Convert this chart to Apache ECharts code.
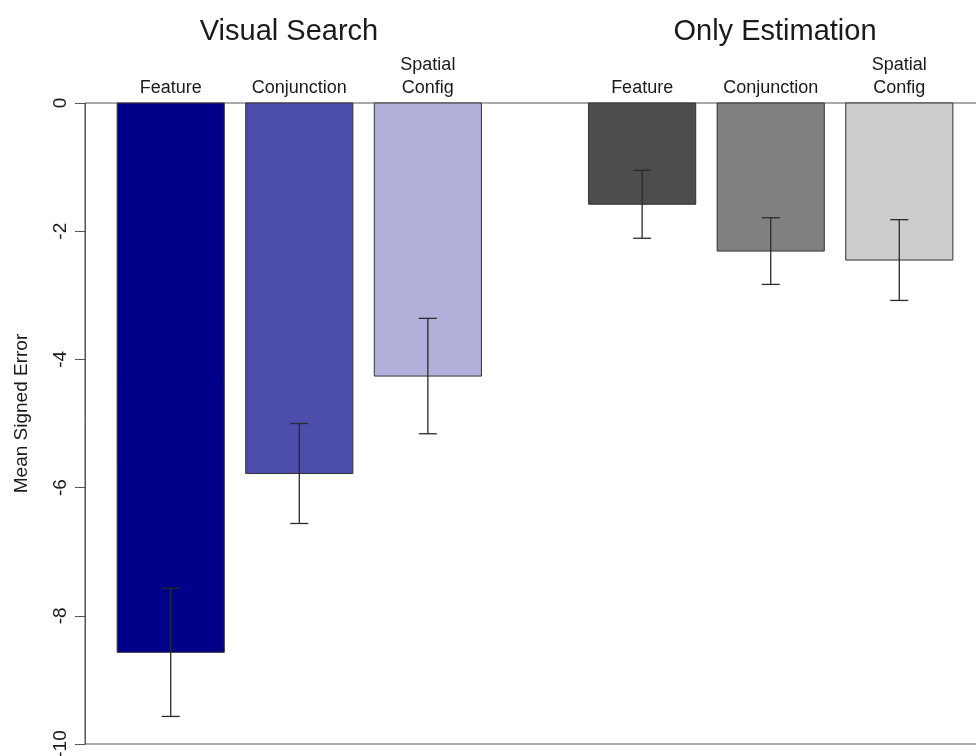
<!DOCTYPE html>
<html>
<head>
<meta charset="utf-8">
<script src="https://cdn.jsdelivr.net/npm/echarts@6/dist/echarts.min.js"></script>
<style>
  html, body { margin: 0; padding: 0; background: #fff; }
  #chart { width: 976px; height: 756px; }
</style>
</head>
<body>
<div id="chart"></div>
<script>
// data
var groupNames = ['Visual Search', 'Only Estimation'];
var conditions = ['Feature', 'Conjunction', 'Spatial\nConfig'];
var searchMean = [-8.57, -5.78, -4.26];
var searchSE = [1.00, 0.78, 0.90];
var estimMean = [-1.58, -2.31, -2.45];
var estimSE = [0.53, 0.52, 0.63];
var yTicks = [0, -2, -4, -6, -8, -10];

var searchColors = ['#000088', '#4d4dad', '#b0b0da'];
var estimColors = ['#4d4d4d', '#808080', '#cccccc'];

var font = '"Liberation Sans", Arial, sans-serif';

// bar slots, R barplot style: width 1, space 0.2 inside a group, 1 between groups
var rows = [];
function addGroup(g, means, ses, colors) {
    for (var i = 0; i < means.length; i++) {
        var x = 0.7 + g * 4.4 + i * 1.2;
        rows.push([x, means[i], ses[i], i, colors[i]]);
    }
}
addGroup(0, searchMean, searchSE, searchColors);
addGroup(1, estimMean, estimSE, estimColors);

var chart = echarts.init(document.getElementById('chart'));

function renderBar(params, api) {
    var x = api.value(0);
    var m = api.value(1);
    var se = api.value(2);
    var row = rows[params.dataIndex];
    var p0 = api.coord([x - 0.5, 0]);
    var p1 = api.coord([x + 0.5, m]);
    var hi = api.coord([x, m + se]);
    var lo = api.coord([x, m - se]);
    var cap = 9;
    var lineStyle = { stroke: '#2b2b2b', lineWidth: 1.3 };
    return {
        type: 'group',
        children: [
            {
                type: 'rect',
                shape: { x: p0[0], y: p0[1], width: p1[0] - p0[0], height: p1[1] - p0[1] },
                style: { fill: row[4], stroke: '#333', lineWidth: 1 }
            },
            { type: 'line', shape: { x1: hi[0], y1: hi[1], x2: lo[0], y2: lo[1] }, style: lineStyle },
            { type: 'line', shape: { x1: hi[0] - cap, y1: hi[1], x2: hi[0] + cap, y2: hi[1] }, style: lineStyle },
            { type: 'line', shape: { x1: lo[0] - cap, y1: lo[1], x2: lo[0] + cap, y2: lo[1] }, style: lineStyle },
            {
                type: 'text',
                x: p0[0] + (p1[0] - p0[0]) / 2,
                y: p0[1] - 3,
                style: {
                    text: conditions[row[3]],
                    fontFamily: font,
                    fontSize: 18,
                    fill: '#1a1a1a',
                    align: 'center',
                    verticalAlign: 'bottom',
                    lineHeight: 23
                }
            }
        ]
    };
}

var option = {
    backgroundColor: '#fff',
    animation: false,
    title: [
        {
            text: groupNames[0], left: 284, top: 12, textAlign: 'center',
            textStyle: { fontFamily: font, fontSize: 29, fontWeight: 'normal', color: '#1a1a1a' }
        },
        {
            text: groupNames[1], left: 770, top: 12, textAlign: 'center',
            textStyle: { fontFamily: font, fontSize: 29, fontWeight: 'normal', color: '#1a1a1a' }
        }
    ],
    grid: {
        left: 85, top: 103, width: 900, height: 641,
        outerBoundsMode: 'none',
        containLabel: false,
        show: true, borderColor: '#555', borderWidth: 1, backgroundColor: 'transparent'
    },
    xAxis: {
        type: 'value', min: -0.1, max: 8.3,
        axisLine: { show: false }, axisTick: { show: false },
        axisLabel: { show: false }, splitLine: { show: false }
    },
    yAxis: {
        type: 'value', min: -10, max: 0, interval: 2,
        name: 'Mean Signed Error',
        nameLocation: 'middle',
        nameGap: 54,
        nameTextStyle: { fontFamily: font, fontSize: 19, color: '#1a1a1a', padding: [0, 0, 0, 20] },
        axisLine: { show: true, onZero: false, lineStyle: { color: '#555', width: 1 } },
        axisTick: { show: true, length: 10, inside: false, lineStyle: { color: '#555' } },
        axisLabel: {
            rotate: 90, margin: 15,
            fontFamily: font, fontSize: 19, color: '#1a1a1a',
            customValues: yTicks
        },
        splitLine: { show: false }
    },
    series: [{
        type: 'custom',
        renderItem: renderBar,
        clip: false,
        encode: { x: 0, y: 1 },
        data: rows
    }]
};

chart.setOption(option);
</script>
</body>
</html>
